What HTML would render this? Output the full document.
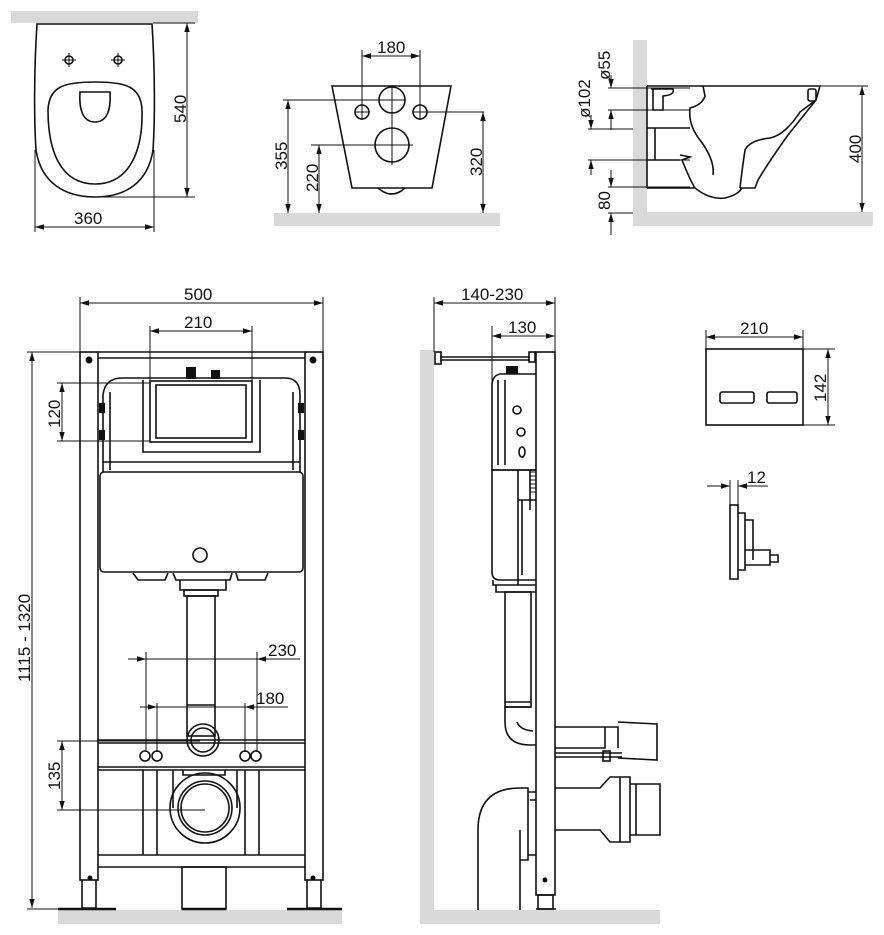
<!DOCTYPE html>
<html><head><meta charset="utf-8"><style>
html,body{margin:0;padding:0;background:#fff;}
svg{display:block;}
text{font-family:"Liberation Sans","DejaVu Sans",sans-serif;font-size:17px;fill:#111;}
</style></head><body>
<svg width="884" height="935" viewBox="0 0 884 935" xmlns="http://www.w3.org/2000/svg">
<defs>
<marker id="a" viewBox="0 0 10 10" refX="10" refY="5" markerWidth="9" markerHeight="9" orient="auto-start-reverse"><path d="M0,2 L10,5 L0,8z" fill="#111"/></marker>
</defs>
<g fill="#d9d9d9" stroke="none">
<rect x="11" y="11" width="187" height="12"/>
<rect x="274" y="213" width="226" height="13"/>
<rect x="633" y="40" width="14" height="186"/>
<rect x="633" y="212" width="240" height="14"/>
<rect x="58" y="910" width="284" height="14"/>
<rect x="420" y="350" width="14" height="574"/>
<rect x="420" y="910" width="240" height="14"/>
</g>
<g stroke="#111" fill="none" stroke-width="1.6">
<!-- top view toilet -->
<path d="M37,24 L152,24 C155,70 155,120 153,150 C148,183 125,197 95,197 C65,197 41,183 36,150 C34,120 34,70 37,24z"/>
<path d="M95,82 C125,82 141,86 142,110 C143,150 130,184 95,184 C60,184 48,150 48,110 C49,86 65,82 95,82z"/>
<path d="M80,92 L110,92 C111,108 108,122 95,122 C82,122 79,108 80,92z"/>
<circle cx="69" cy="60" r="4"/><circle cx="118" cy="60" r="4"/>
</g>
<g stroke="#111" stroke-width="1">
<line x1="62" y1="60" x2="76" y2="60"/><line x1="69" y1="53" x2="69" y2="67"/>
<line x1="111" y1="60" x2="125" y2="60"/><line x1="118" y1="53" x2="118" y2="67"/>
<line x1="153" y1="23" x2="195" y2="23"/><line x1="100" y1="197" x2="195" y2="197"/>
<line x1="187" y1="23" x2="187" y2="197" marker-start="url(#a)" marker-end="url(#a)"/>
<line x1="35" y1="150" x2="35" y2="232"/><line x1="154" y1="150" x2="154" y2="232"/>
<line x1="35" y1="227" x2="154" y2="227" marker-start="url(#a)" marker-end="url(#a)"/>
</g>
<text x="74" y="224">360</text>
<text transform="translate(186,123) rotate(-90)">540</text>

<!-- front toilet -->
<g stroke="#111" fill="none" stroke-width="1.6">
<path d="M332,86 L451,86 L432,188 L352,188z"/>
<path d="M378,188 Q392,200 405,188"/>
<circle cx="392" cy="100" r="13"/><circle cx="362" cy="112" r="7"/><circle cx="420" cy="112" r="7"/><circle cx="392" cy="145" r="17"/>
</g>
<g stroke="#111" stroke-width="1">
<line x1="362" y1="50" x2="362" y2="120"/><line x1="420" y1="50" x2="420" y2="120"/>
<line x1="362" y1="56" x2="420" y2="56" marker-start="url(#a)" marker-end="url(#a)"/>
<line x1="283" y1="100" x2="405" y2="100"/><line x1="392" y1="85" x2="392" y2="165"/>
<line x1="311" y1="145" x2="413" y2="145"/>
<line x1="426" y1="112" x2="484" y2="112"/><line x1="355" y1="112" x2="369" y2="112"/><line x1="413" y1="112" x2="427" y2="112"/>
<line x1="288" y1="100" x2="288" y2="213" marker-start="url(#a)" marker-end="url(#a)"/>
<line x1="319" y1="145" x2="319" y2="213" marker-start="url(#a)" marker-end="url(#a)"/>
<line x1="483" y1="112" x2="483" y2="213" marker-start="url(#a)" marker-end="url(#a)"/>
</g>
<text x="377" y="53">180</text>
<text transform="translate(287,170) rotate(-90)">355</text>
<text transform="translate(318,192) rotate(-90)">220</text>
<text transform="translate(482,176) rotate(-90)">320</text>

<!-- side toilet -->
<g stroke="#111" fill="none" stroke-width="1.6">
<path d="M647,86 L820,86 L816,100 Q800,120 788,135 Q770,160 758,180 L755,188 L740,188"/>
<path d="M647,188 L695,188 Q710,200 725,198 Q738,195 742,188"/>
<path d="M647,86 L647,188"/>
<path d="M703,86 L705,96 Q702,105 690,108 Q688,125 700,140 Q715,160 713,175"/>
<path d="M740,188 Q742,170 745,150 Q750,140 770,138 Q785,135 800,112 L816,100"/>
<path d="M695,188 Q690,180 682,160 L690,157 L680,155"/>
<rect x="808" y="89" width="8" height="12" rx="2"/>
<path d="M651,89 L673,89 Q675,95 663,96 L663,110 L653,110 L653,89"/>
<path d="M647,128 L690,128 M647,160 L680,160 M655,128 L655,160"/>
</g>
<g stroke="#111" stroke-width="1">
<line x1="608" y1="88" x2="690" y2="88"/><line x1="608" y1="110" x2="690" y2="110"/>
<line x1="588" y1="129" x2="633" y2="129"/><line x1="588" y1="160" x2="690" y2="160"/>
<line x1="608" y1="187" x2="690" y2="187"/><line x1="608" y1="213" x2="633" y2="213"/>
<line x1="820" y1="86" x2="868" y2="86"/>
<line x1="862" y1="86" x2="862" y2="212" marker-start="url(#a)" marker-end="url(#a)"/>
<line x1="611" y1="75" x2="611" y2="88" marker-end="url(#a)"/><line x1="611" y1="130" x2="611" y2="110" marker-end="url(#a)"/>
<line x1="591" y1="115" x2="591" y2="129" marker-end="url(#a)"/><line x1="591" y1="175" x2="591" y2="160" marker-end="url(#a)"/>
<line x1="611" y1="170" x2="611" y2="187" marker-end="url(#a)"/><line x1="611" y1="235" x2="611" y2="213" marker-end="url(#a)"/>
</g>
<text transform="translate(610,80) rotate(-90)">ø55</text>
<text transform="translate(590,118) rotate(-90)">ø102</text>
<text transform="translate(610,210) rotate(-90)">80</text>
<text transform="translate(861,163) rotate(-90)">400</text>

<!-- front frame -->
<g stroke="#111" fill="none" stroke-width="1.6">
<rect x="80" y="352" width="18" height="528"/>
<rect x="305" y="352" width="18" height="528"/>
<line x1="98" y1="352" x2="305" y2="352"/><line x1="98" y1="358" x2="305" y2="358"/>
<path d="M82,880 L82,908 L96,908 L96,880 M307,880 L307,908 L321,908 L321,880"/>
<path d="M103,472 L103,395 Q105,378 122,378 L285,378 Q300,378 300,395 L300,472"/>
<path d="M110,470 L110,392 M293,470 L293,392 M103,462 L300,462"/>
<rect x="150" y="381" width="102" height="61"/>
<rect x="156" y="385" width="90" height="53"/>
<path d="M143,380 L143,452 L260,452 L260,380"/>
<rect x="100" y="472" width="203" height="100" rx="4"/>
<circle cx="200" cy="555" r="7"/>
<path d="M133,573 L138,580 L165,580 L168,573 M236,573 L238,580 L265,580 L268,573"/>
<path d="M173,573 L176,580 L230,580 L232,573 M180,580 L180,590 L226,590 L226,580"/>
<rect x="184" y="590" width="34" height="6"/>
<rect x="187" y="596" width="28" height="140"/>
<line x1="187" y1="705" x2="215" y2="705"/>
<line x1="98" y1="740" x2="305" y2="740"/><line x1="98" y1="743" x2="305" y2="743"/>
<line x1="98" y1="767" x2="305" y2="767"/><line x1="98" y1="770" x2="305" y2="770"/>
<circle cx="203" cy="740" r="16"/><circle cx="203" cy="740" r="12"/>
<circle cx="145" cy="756" r="5"/><circle cx="157" cy="756" r="5"/><circle cx="245" cy="756" r="5"/><circle cx="256" cy="756" r="5"/>
<path d="M143,770 L143,855 M157,770 L157,855 M245,770 L245,855 M259,770 L259,855"/>
<path d="M173,770 L173,808 M237,770 L237,808 M183,770 L183,775 L225,775 L225,770"/>
<circle cx="205" cy="808" r="35"/><circle cx="205" cy="808" r="27"/><circle cx="205" cy="808" r="24"/>
<line x1="98" y1="855" x2="305" y2="855"/><line x1="98" y1="867" x2="305" y2="867"/>
<rect x="182" y="867" width="44" height="42"/>
</g>
<g stroke="#111" stroke-width="2.5">
<line x1="58" y1="909" x2="116" y2="909"/><line x1="287" y1="909" x2="342" y2="909"/><line x1="182" y1="909" x2="226" y2="909"/>
</g>
<g fill="#111">
<rect x="186" y="367" width="10" height="12"/><rect x="211" y="370" width="9" height="9"/>
<rect x="99" y="403" width="6" height="10"/><rect x="99" y="430" width="6" height="10"/><rect x="298" y="403" width="6" height="10"/><rect x="298" y="430" width="6" height="10"/>
</g>
<g stroke="#111" stroke-width="1">
<circle cx="89" cy="360" r="3"/><circle cx="313" cy="360" r="3"/>
<circle cx="90" cy="878" r="2"/><circle cx="313" cy="878" r="2"/>
<line x1="80" y1="297" x2="80" y2="352"/><line x1="323" y1="297" x2="323" y2="352"/>
<line x1="80" y1="303" x2="323" y2="303" marker-start="url(#a)" marker-end="url(#a)"/>
<line x1="150" y1="326" x2="150" y2="381"/><line x1="252" y1="326" x2="252" y2="381"/>
<line x1="150" y1="331" x2="252" y2="331" marker-start="url(#a)" marker-end="url(#a)"/>
<line x1="27" y1="352" x2="80" y2="352"/><line x1="27" y1="909" x2="60" y2="909"/>
<line x1="32" y1="352" x2="32" y2="908" marker-start="url(#a)" marker-end="url(#a)"/>
<line x1="57" y1="383" x2="150" y2="383"/><line x1="57" y1="441" x2="150" y2="441"/>
<line x1="62" y1="383" x2="62" y2="441" marker-start="url(#a)" marker-end="url(#a)"/>
<line x1="146" y1="652" x2="146" y2="752"/><line x1="257" y1="652" x2="257" y2="752"/>
<line x1="128" y1="659" x2="146" y2="659" marker-end="url(#a)"/><line x1="146" y1="659" x2="300" y2="659"/><line x1="275" y1="659" x2="257" y2="659" marker-end="url(#a)"/>
<line x1="157" y1="703" x2="157" y2="752"/><line x1="245" y1="703" x2="245" y2="752"/>
<line x1="140" y1="707" x2="157" y2="707" marker-end="url(#a)"/><line x1="157" y1="707" x2="288" y2="707"/><line x1="262" y1="707" x2="245" y2="707" marker-end="url(#a)"/>
<line x1="57" y1="741" x2="200" y2="741"/><line x1="57" y1="810" x2="205" y2="810"/>
<line x1="62" y1="741" x2="62" y2="810" marker-start="url(#a)" marker-end="url(#a)"/>
</g>
<text x="184" y="300">500</text>
<text x="184" y="328">210</text>
<text transform="translate(30,682) rotate(-90)">1115 - 1320</text>
<text transform="translate(60,428) rotate(-90)">120</text>
<text transform="translate(60,790) rotate(-90)">135</text>
<text x="268" y="656">230</text>
<text x="256" y="704">180</text>

<!-- side frame -->
<g stroke="#111" fill="none" stroke-width="1.6">
<rect x="536" y="352" width="19" height="543"/>
<rect x="538" y="895" width="15" height="14"/>
<line x1="536" y1="909" x2="556" y2="909"/>
<line x1="440" y1="357" x2="530" y2="357"/><line x1="440" y1="360" x2="530" y2="360"/>
<rect x="435" y="352" width="6" height="12"/><rect x="529" y="352" width="6" height="10"/>
<path d="M536,374 L500,374 Q492,376 492,385 L492,470 L536,470"/>
<path d="M498,380 L498,465 M505,380 L505,465"/>
<circle cx="517" cy="410" r="4"/><circle cx="521" cy="432" r="4"/><ellipse cx="522" cy="452" rx="3" ry="5"/>
<path d="M536,470 L492,470 L492,572 Q492,580 500,580 L536,580"/>
<path d="M518,470 L518,585 M522,500 L522,575 M530,470 L530,510 M518,500 L536,500"/>
<path d="M493,580 L493,585 L536,585 M496,585 L496,592 L536,592"/>
<rect x="505" y="592" width="26" height="115"/>
<line x1="505" y1="702" x2="531" y2="702"/><line x1="505" y1="707" x2="531" y2="707"/>
<path d="M505,707 L505,722 Q505,745 530,745 L536,745 M517,722 Q520,730 533,731"/>
<path d="M555,727 L605,727 L605,748 L555,748 M605,727 L618,727 L618,748 M618,722 L657,724 L657,760 L618,758"/>
<line x1="555" y1="757" x2="622" y2="757"/><line x1="555" y1="753" x2="622" y2="753"/>
<rect x="603" y="751" width="7" height="10"/>
<path d="M555,788 L600,788 L610,777 L630,777 L630,842 L610,842 L600,830 L555,830"/>
<path d="M630,784 L660,784 L660,835 L630,835 M620,777 L620,842 M636,784 L636,835"/>
<path d="M478,910 L478,830 Q478,788 520,788 L528,788 L528,860 L520,860 M520,830 L520,910"/>
<path d="M528,792 L536,792 M528,855 L536,855 M530,800 L536,800"/>
</g>
<g fill="#111"><rect x="506" y="366" width="12" height="8"/></g>
<g stroke="#111" stroke-width="1">
<line x1="530" y1="472" x2="536" y2="472"/><line x1="530" y1="476" x2="536" y2="476"/><line x1="530" y1="480" x2="536" y2="480"/><line x1="530" y1="484" x2="536" y2="484"/><line x1="530" y1="488" x2="536" y2="488"/><line x1="530" y1="492" x2="536" y2="492"/>
<circle cx="545" cy="880" r="2"/>
<line x1="434" y1="297" x2="434" y2="352"/><line x1="555" y1="297" x2="555" y2="352"/>
<line x1="434" y1="303" x2="555" y2="303" marker-start="url(#a)" marker-end="url(#a)"/>
<line x1="492" y1="326" x2="492" y2="470"/>
<line x1="492" y1="336" x2="555" y2="336" marker-start="url(#a)" marker-end="url(#a)"/>
</g>
<text x="461" y="300">140-230</text>
<text x="508" y="333">130</text>

<!-- flush plate -->
<g stroke="#111" fill="none" stroke-width="1.6">
<rect x="706" y="349" width="97" height="76"/>
<rect x="720" y="392" width="34" height="11" rx="2"/><rect x="767" y="392" width="30" height="11" rx="2"/>
<rect x="730" y="505" width="8" height="74"/>
<path d="M738,513 L745,513 L745,570 L738,570 M745,520 L753,520 L753,560 M745,550 L770,550 L770,565 L745,565 M770,555 L778,555 L778,562 L770,562"/>
</g>
<g stroke="#111" stroke-width="1">
<line x1="706" y1="330" x2="706" y2="349"/><line x1="803" y1="330" x2="803" y2="349"/>
<line x1="706" y1="337" x2="803" y2="337" marker-start="url(#a)" marker-end="url(#a)"/>
<line x1="803" y1="349" x2="835" y2="349"/><line x1="803" y1="425" x2="835" y2="425"/>
<line x1="828" y1="349" x2="828" y2="425" marker-start="url(#a)" marker-end="url(#a)"/>
<line x1="730" y1="480" x2="730" y2="505"/><line x1="738" y1="480" x2="738" y2="505"/>
<line x1="707" y1="486" x2="730" y2="486" marker-end="url(#a)"/><line x1="768" y1="486" x2="738" y2="486" marker-end="url(#a)"/>
</g>
<text x="740" y="334">210</text>
<text transform="translate(826,402) rotate(-90)">142</text>
<text x="747" y="483">12</text>
</svg>
</body></html>
